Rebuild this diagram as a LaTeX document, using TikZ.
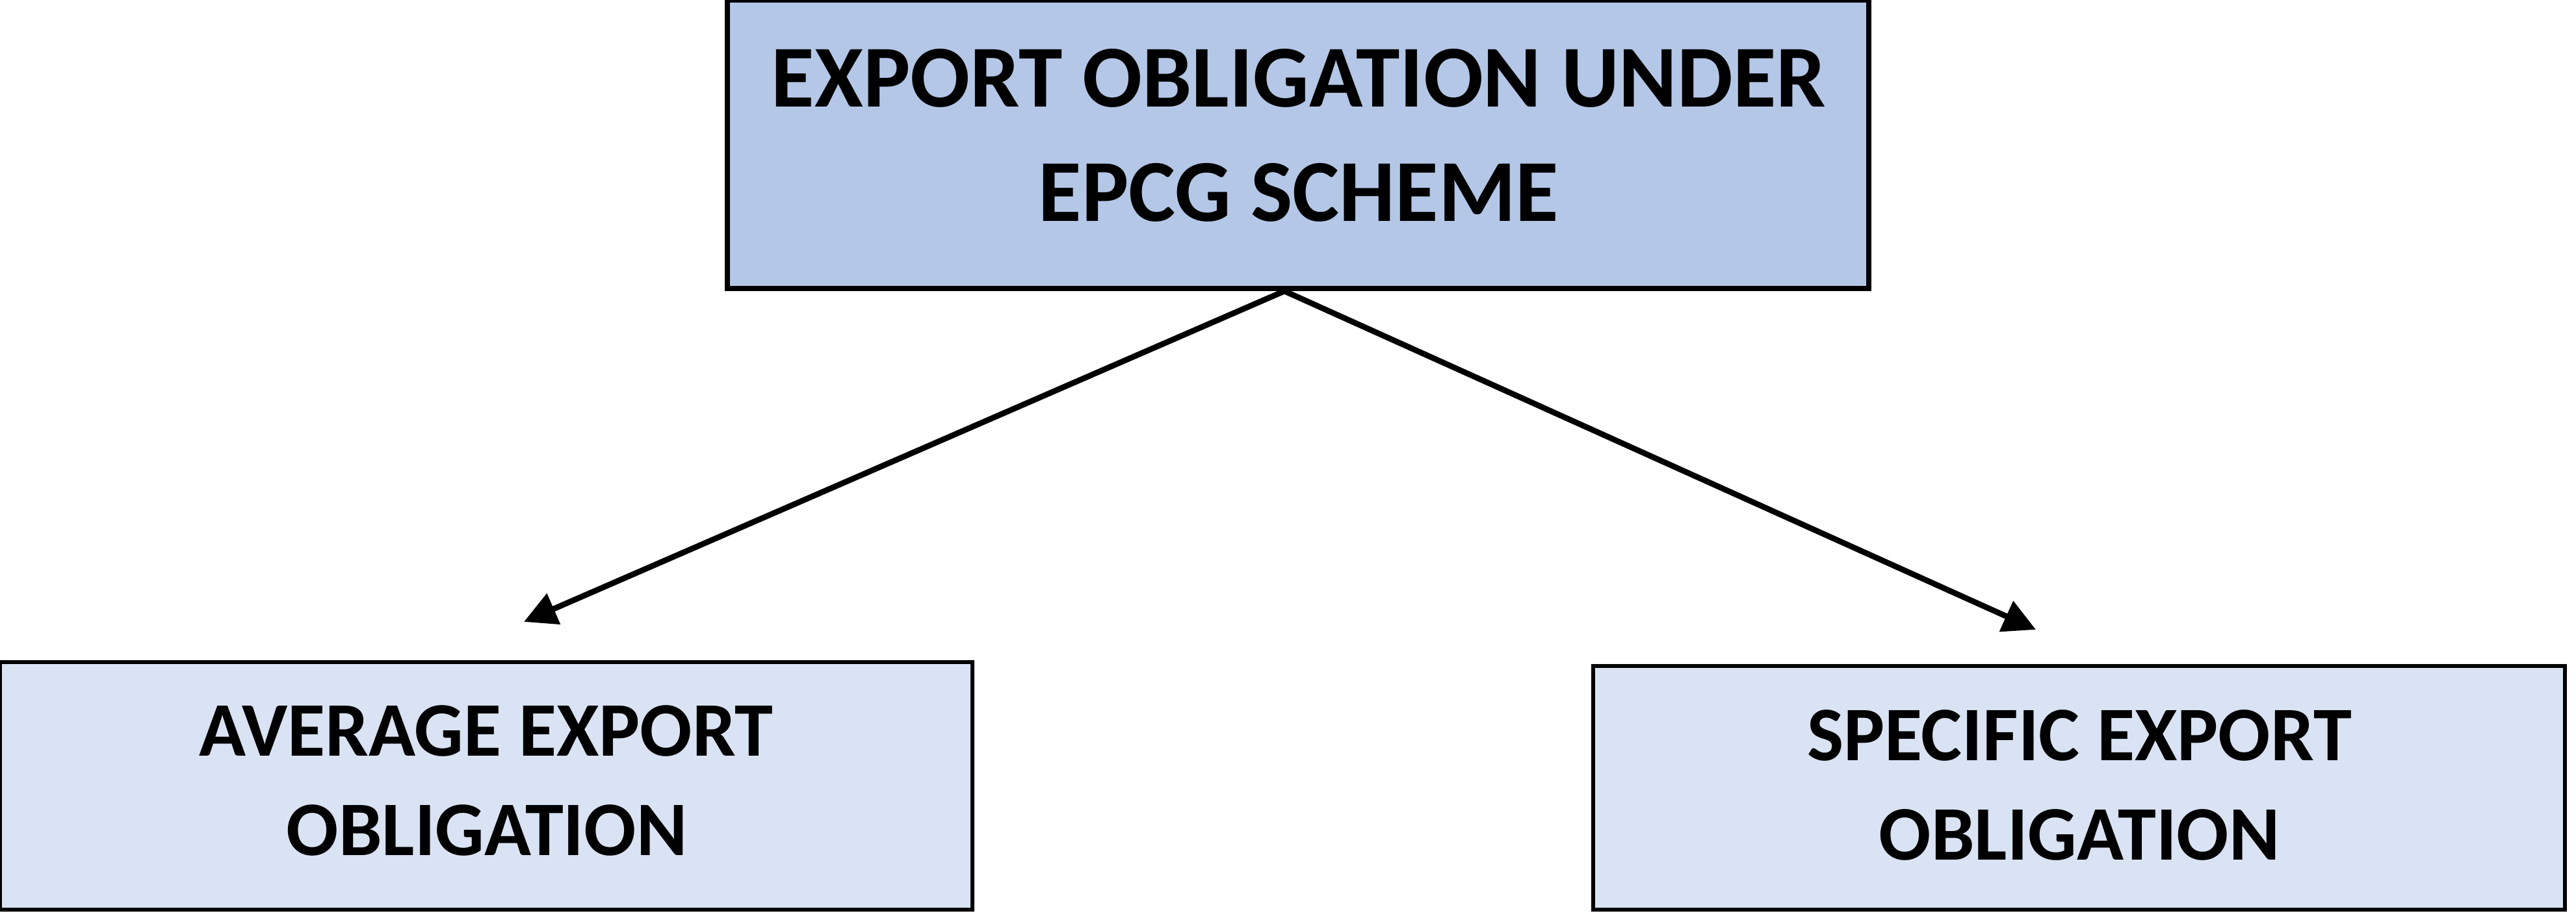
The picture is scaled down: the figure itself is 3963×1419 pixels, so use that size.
\documentclass[tikz,border=0pt]{standalone}
\usepackage{fontspec}
\setmainfont{Carlito}
\usetikzlibrary{arrows.meta}
\definecolor{topfill}{HTML}{B4C7E7}
\definecolor{subfill}{HTML}{DAE3F3}
\tikzset{
  topbox/.style={draw=black, line width=2pt, fill=topfill},
  subbox/.style={draw=black, line width=1.5pt, fill=subfill},
  toptext/.style={anchor=base, inner sep=0pt, font=\fontsize{34pt}{40pt}\selectfont\bfseries},
  subtext/.style={anchor=base, inner sep=0pt, font=\fontsize{29.7pt}{35pt}\selectfont\bfseries},
  conn/.style={line width=2.2pt, -{Triangle[length=12.5pt,width=12.5pt]}}
}
\begin{document}
\begin{tikzpicture}[x=0.25pt,y=-0.25pt]
\useasboundingbox (0,0) rectangle (3963,1419);
% boxes
\draw[topbox] (1119,0) rectangle (2875,444);
\node[inner sep=0pt, minimum size=0pt] (top) at (1997,222) {};
\draw[subbox] (0,1019) rectangle (1496,1400);
\node[inner sep=0pt, minimum size=0pt] (avg) at (748,1209) {};
\draw[subbox] (2451,1025) rectangle (3946,1400);
\node[inner sep=0pt, minimum size=0pt] (spec) at (3198,1212) {};
% texts
\node[toptext] (t1) at (1998,165) {EXPORT OBLIGATION UNDER};
\node[toptext] (t2) at (1998,341) {EPCG SCHEME};
\node[subtext] (a1) at (748,1164) {AVERAGE EXPORT};
\node[subtext] (a2) at (749,1317) {OBLIGATION};
\node[subtext] (s1) at (3199,1171) {SPECIFIC EXPORT};
\node[subtext] (s2) at (3199,1324) {OBLIGATION};
% connectors
\coordinate (start) at (1976,448);
\coordinate (tipL) at (806,957);
\coordinate (tipR) at (3132,969);
\draw[conn] (start) -- (tipL);
\draw[conn] (start) -- (tipR);
\end{tikzpicture}
\end{document}
